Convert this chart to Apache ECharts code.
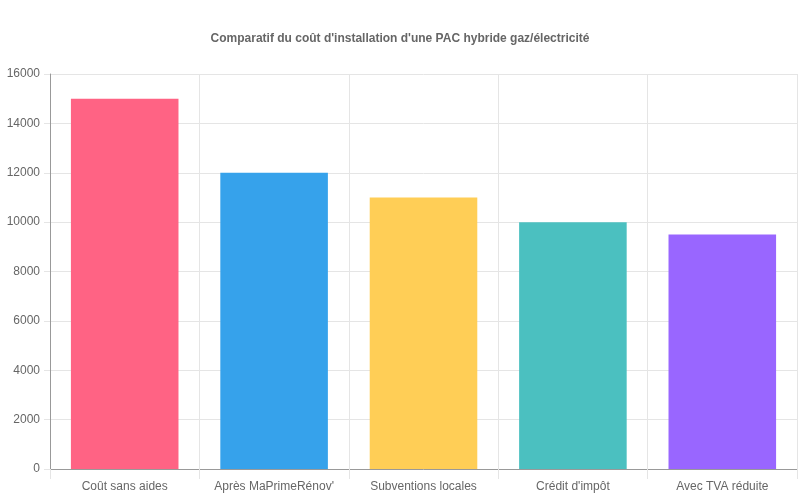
<!DOCTYPE html>
<html><head><meta charset="utf-8">
<script src="https://cdn.jsdelivr.net/npm/echarts@6/dist/echarts.min.js"></script>
<style>html,body{margin:0;padding:0;background:#fff}#c{width:800px;height:500px}</style>
</head><body><div id="c"></div>
<script>
const categories = ["Coût sans aides", "Après MaPrimeRénov'", "Subventions locales", "Crédit d'impôt", "Avec TVA réduite"];
const values = [15000, 12000, 11000, 10000, 9500];
const colors = ['#FF6384', '#36A2EB', '#FFCE56', '#4BC0C0', '#9966FF'];
const chart = echarts.init(document.getElementById('c'));
chart.setOption({
  animation: false,
  title: {
    text: "Comparatif du coût d'installation d'une PAC hybride gaz/électricité",
    left: 'center', top: 28,
    textStyle: { fontFamily: 'Liberation Sans, Arial', fontSize: 12, fontWeight: 'bold', color: '#666' }
  },
  grid: { left: 50, right: 3, top: 74, bottom: 31, containLabel: false },
  xAxis: {
    type: 'category', data: categories,
    axisLine: { lineStyle: { color: '#999' } },
    axisTick: { show: true, interval: 0, length: 10, lineStyle: { color: '#e5e5e5' } },
    splitLine: { show: true, interval: 0, lineStyle: { color: '#e5e5e5' } },
    axisLabel: { interval: 0, fontFamily: 'Liberation Sans, Arial', fontSize: 12, color: '#666', margin: 12 }
  },
  yAxis: {
    type: 'value', min: 0, max: 16000, interval: 2000,
    axisLine: { show: true, lineStyle: { color: '#999' } },
    axisTick: { show: true, length: 6, lineStyle: { color: '#e5e5e5' } },
    splitLine: { lineStyle: { color: '#e5e5e5' } },
    axisLabel: { formatter: v => String(v), fontFamily: 'Liberation Sans, Arial', fontSize: 12, color: '#666', margin: 10 }
  },
  series: [{
    type: 'bar', barCategoryGap: '28%',
    data: values.map((v, i) => ({ value: v, itemStyle: { color: colors[i] } }))
  }]
});
</script></body></html>
